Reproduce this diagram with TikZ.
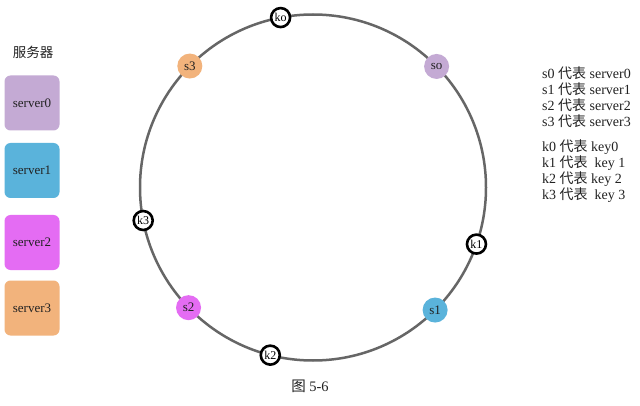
\documentclass[tikz,border=0pt]{standalone}
\usepackage{fontspec}
\setmainfont{Liberation Serif}
\newfontfamily\cjk{Noto Sans CJK SC}
\usetikzlibrary{calc}
\definecolor{cA}{HTML}{C4AAD4}
\definecolor{cB}{HTML}{5AB3DB}
\definecolor{cC}{HTML}{E46CF3}
\definecolor{cD}{HTML}{F2B37C}
\definecolor{ring}{HTML}{666666}
\definecolor{txt}{HTML}{222222}
\tikzset{
  legendbox/.style={rounded corners=6pt, minimum width=55pt, minimum height=55pt, inner sep=0pt, font=\fontsize{13}{15}\selectfont, text=txt},
  srvdot/.style={circle, minimum size=25pt, inner sep=0pt, font=\fontsize{13}{15}\selectfont, text=txt},
  keydot/.style={circle, draw=black, line width=2.6pt, fill=white, minimum size=19pt, inner sep=0pt, font=\fontsize{12}{14}\selectfont},
  legtext/.style={anchor=west, inner sep=0pt, font=\fontsize{14}{16}\selectfont, text=txt}
}
\begin{document}
\begin{tikzpicture}[x=1pt,y=-1pt]
\useasboundingbox (0,0) rectangle (640,406);
\fill[white] (0,0) rectangle (640,406);
% legend on the left
\node[font=\cjk\fontsize{13.5}{15}\selectfont, text=txt] (title) at (33,52) {服务器};
\node[legendbox, fill=cA] (b0) at (32,103) {server0};
\node[legendbox, fill=cB] (b1) at (32,170.5) {server1};
\node[legendbox, fill=cC] (b2) at (32,242.5) {server2};
\node[legendbox, fill=cD] (b3) at (32,308) {server3};
% ring
\coordinate (c) at (313,187.5);
\draw[ring, line width=2.5pt] (c) circle[radius=173];
% servers on the ring
\node[srvdot, fill=cA] (s0) at ($(c)+(-44.4:173)$) {so};
\node[srvdot, fill=cD] (s3) at ($(c)+(-135.4:173)$) {s3};
\node[srvdot, fill=cC] (s2) at ($(c)+(-224:173)$) {s2};
\node[srvdot, fill=cB] (s1) at ($(c)+(-314.9:173)$) {s1};
% keys on the ring
\node[keydot] (k0) at ($(c)+(-100.8:173)$) {ko};
\node[keydot] (k1) at ($(c)+(19.1:173)$) {k1};
\node[keydot] (k3) at ($(c)+(-191:173)$) {k3};
\node[keydot] (k2) at ($(c)+(-255.7:173)$) {k2};
% legend on the right
\node[legtext] (l0) at (542,73) {s0 {\cjk 代表} server0};
\node[legtext] (l1) at (542,89) {s1 {\cjk 代表} server1};
\node[legtext] (l2) at (542,105.5) {s2 {\cjk 代表} server2};
\node[legtext] (l3) at (542,121.5) {s3 {\cjk 代表} server3};
\node[legtext] (m0) at (542,147.5) {k0 {\cjk 代表} key0};
\node[legtext] (m1) at (542,163.5) {k1 {\cjk 代表}\ \ key 1};
\node[legtext] (m2) at (542,179) {k2 {\cjk 代表} key 2};
\node[legtext] (m3) at (542,195) {k3 {\cjk 代表}\ \ key 3};
% caption
\node[font=\fontsize{14.5}{16}\selectfont, text=txt] (cap) at (310,386) {{\cjk 图} 5-6};
\end{tikzpicture}
\end{document}
